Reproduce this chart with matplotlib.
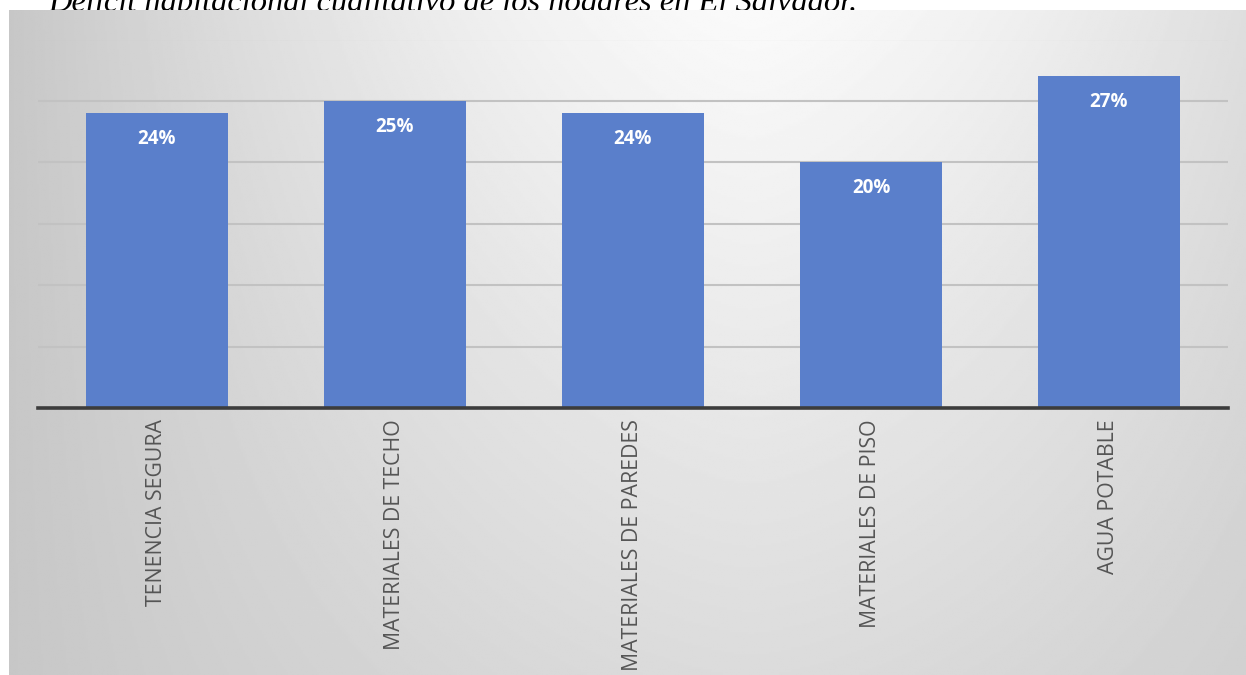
import numpy as np
import matplotlib
matplotlib.use('Agg')
import matplotlib.pyplot as plt

# data
categorias = ['TENENCIA SEGURA', 'MATERIALES DE TECHO', 'MATERIALES DE PAREDES',
              'MATERIALES DE PISO', 'AGUA POTABLE']
valores = [0.24, 0.25, 0.24, 0.20, 0.27]
etiquetas = ['24%', '25%', '24%', '20%', '27%']
titulo = 'Déficit habitacional cualitativo de los hogares en El Salvador.'

W, H = 1246, 675
fig = plt.figure(figsize=(W / 100, H / 100), dpi=100)
fig.patch.set_facecolor('white')

# title (its top is cut off by the figure edge, the panel hides descenders)
fig.text(48 / W, 1 - 11 / H, titulo, fontsize=23.4, style='italic',
         family='Liberation Serif', color='black', ha='left', va='baseline',
         zorder=-1)

# gradient panel
bg = fig.add_axes([9 / W, 0, 1 - 9 / W, 1 - 10 / H])
bg.set_zorder(0)
bg.set_axis_off()
yy, xx = np.mgrid[0:1:300j, 0:1:600j]
dx = np.abs(xx - 0.6) / 0.6
g = 0.78 + 0.2 * (1 - dx ** 1.5) * (1 - 0.6 * yy)
bg.imshow(g, cmap='gray', vmin=0, vmax=1, aspect='auto', extent=[0, 1, 1, 0])
bg.set_xlim(0, 1)
bg.set_ylim(1, 0)

# main axes
ax = fig.add_axes([38 / W, 1 - 408 / H, (1228 - 38) / W, (408 - 39.5) / H])
ax.set_zorder(1)
ax.patch.set_alpha(0)
x = np.arange(len(categorias))
bars = ax.bar(x, valores, width=0.6, color='#5a7fcb', zorder=3)
ax.set_xlim(-0.5, len(categorias) - 0.5)
ax.set_ylim(0, 0.30)
ax.set_yticks(np.arange(0.05, 0.31, 0.05))
ax.yaxis.grid(True, color='#c2c2c2', linewidth=1.5, zorder=0)
ax.tick_params(axis='y', length=0, labelleft=False)
ax.tick_params(axis='x', length=0, pad=8)
for s in ['top', 'right', 'left']:
    ax.spines[s].set_visible(False)
ax.spines['bottom'].set_color('#3c3c3c')
ax.spines['bottom'].set_linewidth(2.6)
ax.spines['bottom'].set_zorder(4)

ax.set_xticks(x)
ax.set_xticklabels(categorias, rotation=90, fontsize=15.3, family='Open Sans',
                   color='#555555', va='top')

for b, lab in zip(bars, etiquetas):
    ax.annotate(lab, (b.get_x() + b.get_width() / 2, b.get_height()),
                xytext=(0, -26), textcoords='offset pixels', ha='center', va='center',
                color='white', fontsize=13.5, fontweight='bold', family='Open Sans', zorder=5)

fig.savefig('out.png', dpi=100, facecolor='white')
